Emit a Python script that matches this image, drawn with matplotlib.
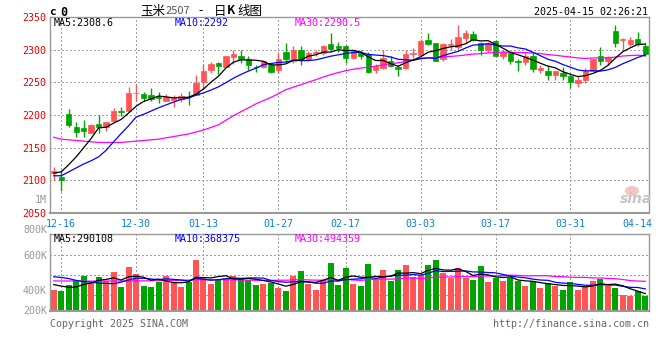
import matplotlib
matplotlib.use("Agg")
import matplotlib.pyplot as plt
from matplotlib.patches import Ellipse

# trading days shown (index 0 = 12-13)
dates = ['12-13', '12-16', '12-17', '12-18', '12-19', '12-20', '12-23', '12-24', '12-25', '12-26',
         '12-27', '12-30', '12-31', '01-02', '01-03', '01-06', '01-07', '01-08', '01-09', '01-10',
         '01-13', '01-14', '01-15', '01-16', '01-17', '01-20', '01-21', '01-22', '01-23', '01-24',
         '01-27', '02-05', '02-06', '02-07', '02-10', '02-11', '02-12', '02-13', '02-14', '02-17',
         '02-18', '02-19', '02-20', '02-21', '02-24', '02-25', '02-26', '02-27', '02-28', '03-03',
         '03-04', '03-05', '03-06', '03-07', '03-10', '03-11', '03-12', '03-13', '03-14', '03-17',
         '03-18', '03-19', '03-20', '03-21', '03-24', '03-25', '03-26', '03-27', '03-28', '03-31',
         '04-01', '04-02', '04-03', '04-07', '04-08', '04-09', '04-10', '04-11', '04-14', '04-15']
tick_dates = ['12-16', '12-30', '01-13', '01-27', '02-17', '03-03', '03-17', '03-31', '04-14']

opens = [2111, 2105, 2202, 2182, 2180, 2172, 2186, 2181, 2191, 2206,
         2206, 2233, 2232, 2230, 2227, 2222, 2223, 2224, 2228, 2230,
         2250, 2269, 2280, 2274, 2289, 2290, 2286, 2274, 2273, 2276,
         2269, 2296, 2283, 2300, 2285, 2295, 2295, 2309, 2305, 2305,
         2287, 2295, 2293, 2269, 2272, 2283, 2274, 2272, 2294, 2292,
         2315, 2310, 2285, 2307, 2304, 2318, 2324, 2310, 2299, 2313,
         2291, 2295, 2282, 2281, 2290, 2269, 2268, 2261, 2265, 2259,
         2249, 2253, 2268, 2290, 2282, 2328, 2315, 2309, 2316, 2306]
highs = [2120, 2114, 2209, 2190, 2192, 2186, 2200, 2190, 2211, 2212,
         2243, 2247, 2235, 2241, 2235, 2232, 2230, 2234, 2237, 2261,
         2278, 2281, 2281, 2291, 2300, 2300, 2290, 2277, 2283, 2280,
         2295, 2310, 2305, 2306, 2298, 2300, 2307, 2325, 2312, 2307,
         2300, 2299, 2296, 2278, 2300, 2290, 2277, 2299, 2302, 2316,
         2325, 2310, 2310, 2316, 2337, 2330, 2328, 2311, 2312, 2315,
         2300, 2296, 2285, 2295, 2295, 2276, 2276, 2268, 2274, 2263,
         2259, 2272, 2285, 2304, 2290, 2337, 2318, 2319, 2327, 2310]
lows = [2101, 2084, 2182, 2166, 2166, 2172, 2173, 2176, 2191, 2199,
        2206, 2222, 2222, 2222, 2218, 2221, 2213, 2220, 2215, 2230,
        2240, 2265, 2263, 2273, 2278, 2280, 2269, 2266, 2272, 2264,
        2265, 2280, 2280, 2276, 2283, 2291, 2292, 2299, 2297, 2280,
        2286, 2285, 2264, 2265, 2270, 2273, 2260, 2270, 2287, 2290,
        2307, 2282, 2283, 2299, 2299, 2310, 2313, 2292, 2297, 2290,
        2285, 2278, 2268, 2277, 2266, 2264, 2254, 2253, 2254, 2241,
        2243, 2249, 2268, 2277, 2277, 2304, 2299, 2305, 2306, 2291]
closes = [2114, 2101, 2185, 2174, 2176, 2185, 2182, 2189, 2206, 2204,
          2234, 2234, 2226, 2225, 2226, 2228, 2226, 2229, 2227, 2249,
          2268, 2278, 2275, 2290, 2293, 2286, 2277, 2273, 2282, 2266,
          2285, 2285, 2300, 2285, 2295, 2296, 2305, 2301, 2303, 2287,
          2299, 2290, 2266, 2275, 2287, 2275, 2270, 2293, 2295, 2313,
          2309, 2283, 2309, 2308, 2319, 2326, 2315, 2299, 2310, 2291,
          2296, 2283, 2281, 2290, 2270, 2272, 2261, 2268, 2260, 2251,
          2254, 2268, 2285, 2283, 2289, 2310, 2317, 2315, 2309, 2293]

ma5 = [2111, 2113, 2124, 2136, 2150.0, 2164.2, 2180.4, 2181.2, 2187.6, 2193.2,
       2203.0, 2213.4, 2220.8, 2224.6, 2229.0, 2227.8, 2226.2, 2226.8, 2227.2, 2231.8,
       2239.8, 2250.2, 2259.4, 2272.0, 2280.8, 2284.4, 2284.2, 2283.8, 2282.2, 2276.8,
       2276.6, 2278.2, 2283.6, 2284.2, 2290.0, 2292.2, 2296.2, 2296.4, 2300.0, 2298.4,
       2299.0, 2296.0, 2289.0, 2283.4, 2283.4, 2278.6, 2274.6, 2280.0, 2284.0, 2289.2,
       2296.0, 2298.6, 2301.8, 2304.4, 2305.6, 2309.0, 2315.4, 2313.4, 2313.8, 2308.2,
       2302.2, 2295.8, 2292.2, 2288.2, 2284.0, 2279.2, 2274.8, 2272.2, 2266.2, 2262.4,
       2258.8, 2260.2, 2263.6, 2268.2, 2275.8, 2287.0, 2296.8, 2302.8, 2308.0, 2308.6]
ma10 = [2107, 2107, 2113, 2119, 2125, 2130, 2136, 2146, 2159, 2171.6,
        2183.6, 2196.9, 2201.0, 2206.1, 2211.1, 2215.4, 2219.8, 2223.8, 2225.9, 2230.4,
        2233.8, 2238.2, 2243.1, 2249.6, 2256.3, 2262.1, 2267.2, 2271.6, 2277.1, 2278.8,
        2280.5, 2281.2, 2283.7, 2283.2, 2283.4, 2284.4, 2287.2, 2290.0, 2292.1, 2294.2,
        2295.6, 2296.1, 2292.7, 2291.7, 2290.9, 2288.8, 2285.3, 2284.5, 2283.7, 2286.3,
        2287.3, 2286.6, 2290.9, 2294.2, 2297.4, 2302.5, 2307.0, 2307.6, 2309.1, 2306.9,
        2305.6, 2305.6, 2302.8, 2301.0, 2296.1, 2290.7, 2285.3, 2282.2, 2277.2, 2273.2,
        2269.0, 2267.5, 2267.9, 2267.2, 2269.1, 2272.9, 2278.5, 2283.2, 2288.1, 2292.0]
ma30 = [2166, 2163, 2162, 2161, 2160, 2159, 2158, 2158, 2158, 2158,
        2159, 2160, 2161, 2162, 2163, 2165, 2167, 2169, 2171, 2174,
        2177, 2181, 2185, 2192, 2199, 2205, 2211, 2217, 2222, 2226.9,
        2232.6, 2238.8, 2242.6, 2246.3, 2250.3, 2254.0, 2258.1, 2261.8, 2265.0, 2267.8,
        2270.0, 2271.8, 2273.2, 2274.8, 2276.9, 2278.4, 2279.9, 2282.0, 2284.3, 2286.4,
        2287.8, 2288.0, 2289.1, 2289.7, 2290.6, 2291.9, 2293.2, 2294.0, 2295.0, 2295.8,
        2296.2, 2296.1, 2295.5, 2295.6, 2294.8, 2294.0, 2292.5, 2291.4, 2290.0, 2288.8,
        2287.3, 2286.6, 2287.2, 2287.5, 2287.5, 2288.7, 2290.3, 2291.0, 2291.5, 2290.5]

# volume in thousands
volume = [350, 333, 433, 517, 583, 462, 567, 500, 650, 400,
          733, 617, 417, 400, 488, 583, 478, 400, 488, 850,
          567, 450, 517, 555, 583, 555, 517, 433, 450, 462,
          388, 333, 583, 667, 450, 350, 517, 800, 433, 717,
          450, 417, 783, 517, 683, 500, 683, 767, 567, 600,
          767, 850, 638, 545, 717, 545, 517, 750, 483, 545,
          500, 555, 500, 417, 500, 388, 472, 422, 350, 483,
          350, 405, 500, 528, 417, 388, 267, 250, 333, 250]
vol_ma5 = [440, 415, 395, 400, 443, 466, 512, 526, 552, 516,
           570, 580, 563, 513, 531, 501, 473, 470, 487, 560,
           557, 551, 574, 588, 534, 532, 545, 529, 508, 483,
           450, 413, 443, 487, 484, 477, 513, 557, 510, 563,
           583, 563, 560, 577, 570, 580, 633, 630, 640, 623,
           677, 710, 684, 680, 703, 659, 592, 615, 602, 568,
           559, 567, 517, 503, 494, 472, 455, 440, 426, 423,
           415, 402, 418, 453, 440, 448, 420, 370, 331, 290]
vol_ma10 = [570, 560, 540, 510, 490, 480, 465, 460, 455, 480,
            518, 546, 545, 533, 523, 536, 527, 517, 500, 545,
            529, 512, 522, 538, 547, 544, 548, 552, 548, 509,
            491, 479, 486, 497, 484, 463, 463, 500, 498, 524,
            530, 538, 558, 543, 567, 582, 598, 595, 608, 597,
            628, 672, 657, 660, 663, 668, 651, 650, 641, 636,
            609, 580, 566, 553, 531, 516, 511, 478, 465, 459,
            444, 429, 429, 440, 432, 432, 411, 394, 392, 368]
vol_ma30 = [502, 500, 500, 500, 498, 498, 498, 500, 500, 500,
            502, 502, 502, 503, 505, 508, 510, 512, 515, 520,
            522, 522, 522, 520, 518, 516, 514, 512, 511, 511,
            513, 513, 518, 523, 518, 514, 513, 523, 515, 526,
            517, 510, 522, 526, 533, 530, 537, 549, 551, 543,
            550, 563, 567, 567, 571, 571, 571, 582, 583, 585,
            589, 597, 594, 585, 587, 588, 587, 574, 572, 564,
            560, 560, 551, 551, 542, 538, 524, 507, 499, 494]

W, H = 660, 360
RED = '#ff5555'
GREEN = '#00a400'
GRID = '#a0a0a0'
FRAME = '#999999'
MONO = 'DejaVu Sans Mono'
CJK = ['Noto Sans CJK SC', 'DejaVu Sans']
DOTS = (0, (1, 2))


def px(x, y):
    return x / W, 1 - y / H


fig = plt.figure(figsize=(W / 100, H / 100), dpi=100)
ax = fig.add_axes([50 / W, 1 - 213 / H, 599 / W, 196 / H])
axv = fig.add_axes([50 / W, 1 - 311 / H, 599 / W, 77 / H])

n = len(closes)
idx = list(range(n))
colors = [RED if c >= o else GREEN for o, c in zip(opens, closes)]
tick_pos = [dates.index(d) for d in tick_dates]

# price panel
ax.set_xlim(-0.5, n - 0.5)
ax.set_ylim(2050, 2350)
for level in range(2100, 2350, 50):
    ax.axhline(level, color=GRID, lw=1, ls=DOTS, antialiased=False, zorder=0)
for p in tick_pos[:-1]:
    ax.axvline(p, color=GRID, lw=1, ls=DOTS, antialiased=False, zorder=0)

ax.vlines(idx, lows, highs, colors=colors, lw=1, zorder=2)
body_bottom = [min(o, c) for o, c in zip(opens, closes)]
body_height = [max(abs(c - o), 0.8) for o, c in zip(opens, closes)]
ax.bar(idx, body_height, bottom=body_bottom, width=0.72, color=colors,
       edgecolor=colors, linewidth=0.5, zorder=3)
ax.plot(idx, ma30, color='#ff00ff', lw=0.9, zorder=4)
ax.plot(idx, ma10, color='#0000ff', lw=0.9, zorder=4)
ax.plot(idx, ma5, color='black', lw=0.9, zorder=4)

ax.set_yticks(range(2050, 2351, 50))
ax.set_yticklabels([str(v) for v in range(2050, 2351, 50)], color='#ee0000',
                   fontfamily=MONO, fontsize=7.2)
ax.set_xticks(tick_pos)
ax.set_xticklabels(tick_dates, color='#0a80d8', fontfamily=MONO, fontsize=7.2)
ax.tick_params(length=0, pad=2.5)
ax.tick_params(axis='x', pad=4)
for s in ax.spines.values():
    s.set_color(FRAME)
    s.set_linewidth(1)
ax.spines['bottom'].set_linewidth(1.5)

# volume panel
vtop = 1283
axv.set_xlim(-0.5, n - 0.5)
axv.set_ylim(0, vtop)
for frac in (0.727, 0.468, 0.208):
    axv.axhline(frac * vtop, color=GRID, lw=1, ls=DOTS, antialiased=False, zorder=0)
for p in tick_pos[:-1]:
    axv.axvline(p, color=GRID, lw=1, ls=DOTS, antialiased=False, zorder=0)
axv.bar(idx, volume, width=0.8, color=colors, zorder=2)
axv.plot(idx, vol_ma30, color='#ff00ff', lw=0.9, zorder=3)
axv.plot(idx, vol_ma10, color='#0000ff', lw=0.9, zorder=3)
axv.plot(idx, vol_ma5, color='black', lw=0.9, zorder=3)
axv.set_xticks([])
axv.set_yticks([])
for s in axv.spines.values():
    s.set_color(FRAME)
    s.set_linewidth(1)
axv.spines['bottom'].set_linewidth(1.5)

for label, y in (('800K', 230), ('600K', 256), ('400K', 291), ('200K', 311)):
    fig.text(*px(47, y), label, ha='right', va='center', color='#999999',
             fontfamily=MONO, fontsize=7.2)
fig.text(*px(47, 200), '1M', ha='right', va='center', color='#999999',
         fontfamily=MONO, fontsize=7.2)

# header texts
fig.text(*px(49, 12), 'c', ha='left', va='center', fontfamily=MONO,
         fontsize=8, fontweight='bold')
fig.text(*px(60, 12), '0', ha='left', va='center', fontfamily=MONO,
         fontsize=8.5, fontweight='bold')
fig.text(*px(140, 11), '玉米', ha='left', va='center', family=CJK, fontsize=9)
fig.text(*px(166, 11), '2507', ha='left', va='center', color='#555555',
         family=CJK, fontsize=8)
fig.text(*px(198, 11), '-', ha='left', va='center', family=CJK, fontsize=9)
fig.text(*px(214, 11), '日', ha='left', va='center', family=CJK, fontsize=9)
fig.text(*px(227, 11), 'K', ha='left', va='center', family=CJK, fontsize=8.5,
         fontweight='bold')
fig.text(*px(237, 11), '线图', ha='left', va='center', family=CJK, fontsize=9)
fig.text(*px(648, 12), '2025-04-15 02:26:21', ha='right', va='center',
         fontfamily=MONO, fontsize=7.2)

fig.text(*px(54, 23), 'MA5:2308.6', color='black', va='center', fontfamily=MONO, fontsize=7.2)
fig.text(*px(175, 23), 'MA10:2292', color='#0000ff', va='center', fontfamily=MONO, fontsize=7.2)
fig.text(*px(295, 23), 'MA30:2290.5', color='#ff00ff', va='center', fontfamily=MONO, fontsize=7.2)

fig.text(*px(54, 239), 'MA5:290108', color='black', va='center', fontfamily=MONO, fontsize=7.2)
fig.text(*px(175, 239), 'MA10:368375', color='#0000ff', va='center', fontfamily=MONO, fontsize=7.2)
fig.text(*px(295, 239), 'MA30:494359', color='#ff00ff', va='center', fontfamily=MONO, fontsize=7.2)

fig.text(*px(50, 324), 'Copyright 2025 SINA.COM', color='#666666', va='center',
         fontfamily=MONO, fontsize=7.2)
fig.text(*px(649, 324), 'http://finance.sina.com.cn', color='#666666', ha='right',
         va='center', fontfamily=MONO, fontsize=7.2)

# sina watermark
fig.add_artist(Ellipse(px(632, 191), 14 / W, 10 / H, transform=fig.transFigure,
                       facecolor='#f7c4c4', edgecolor='none', zorder=1))
fig.text(*px(636, 199), 'sina', ha='center', va='center', color='#c4c4c4',
         fontsize=10, fontweight='bold', fontstyle='italic', zorder=2)

fig.savefig('out.png', dpi=100)
